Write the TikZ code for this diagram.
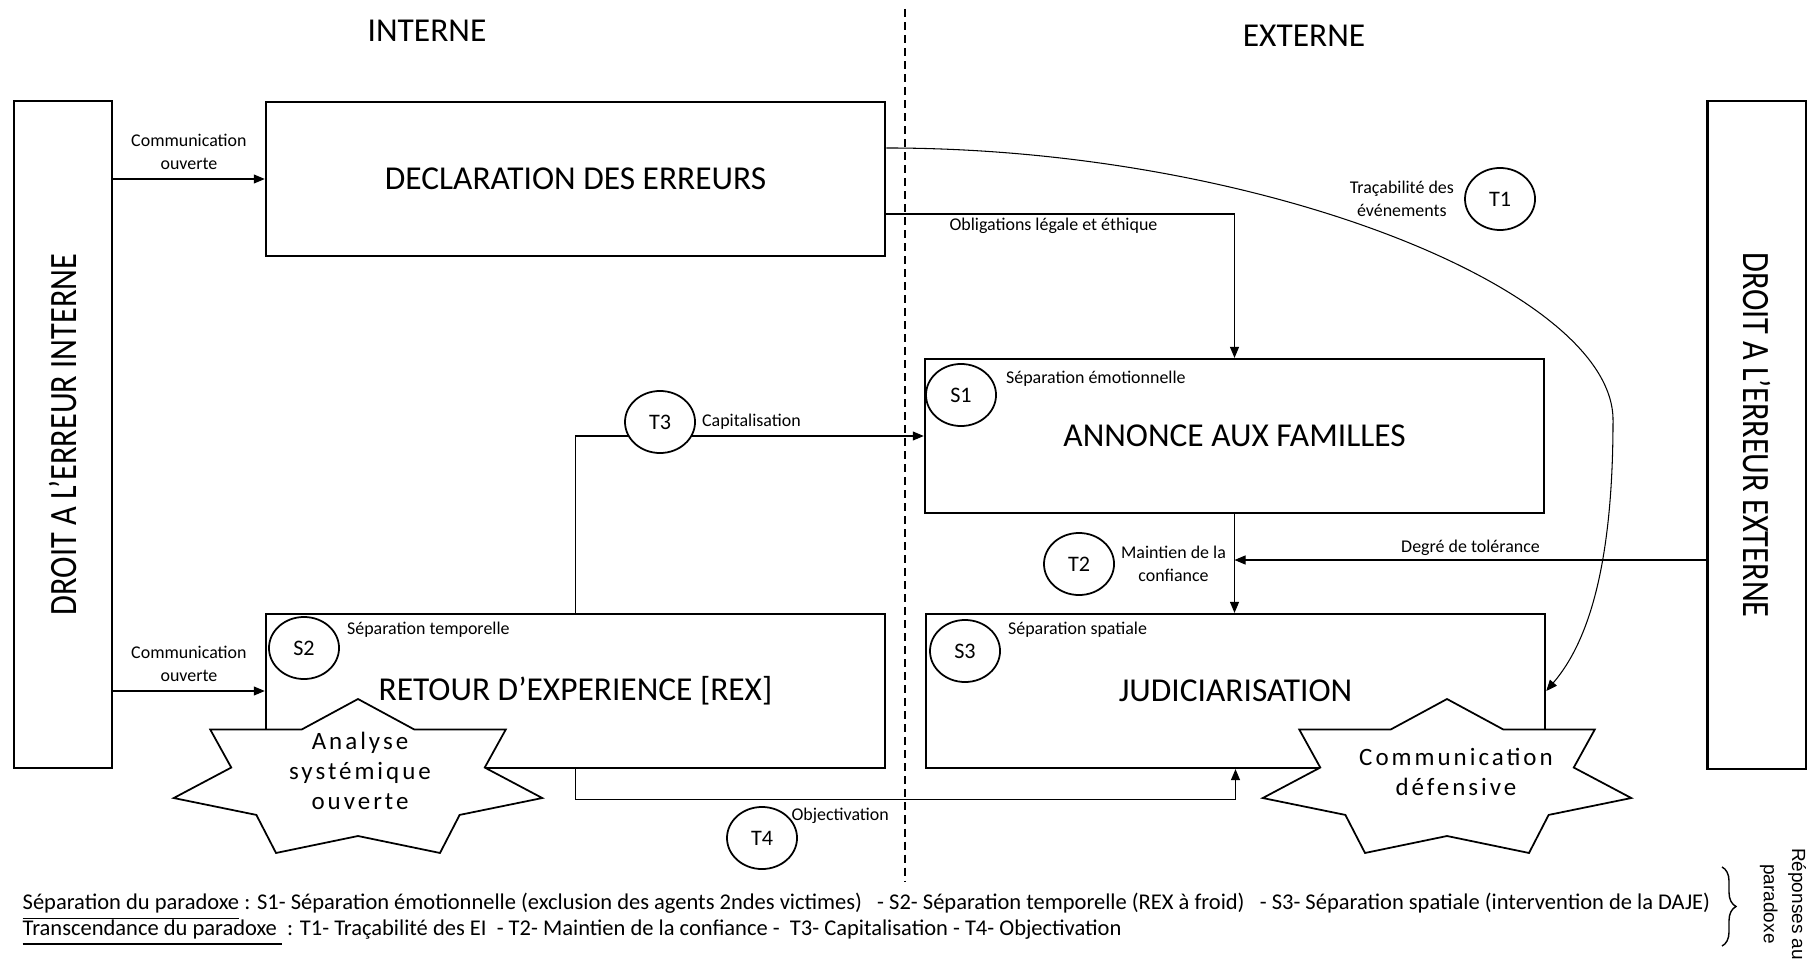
\documentclass[tikz,border=0pt]{standalone}
\usepackage{fontspec}
\setmainfont{Carlito}
\newfontfamily\condfont[FakeStretch=0.835]{Carlito}
\newfontfamily\spacedfont[LetterSpace=12]{Carlito}
\newfontfamily\arialfont{Liberation Sans}
\usetikzlibrary{arrows.meta}
\usetikzlibrary{positioning}
\usetikzlibrary{shapes.geometric}
\usetikzlibrary{decorations.pathreplacing}
\newcommand{\boxfont}{\fontsize{9.5}{11.4}\selectfont}
\newcommand{\sidefont}{\condfont\fontsize{11}{13}\selectfont}
\newcommand{\tagfont}{\fontsize{6.3}{7}\selectfont}
\newcommand{\notefont}{\fontsize{5.1}{6.5}\selectfont}
\newcommand{\starfont}{\spacedfont\fontsize{7.1}{8.6}\selectfont}
\newcommand{\legendfont}{\fontsize{6.4}{7.6}\selectfont}
\tikzset{box/.style = {draw, line width=0.6pt, minimum width=6.19cm, minimum height=1.54cm, inner sep=0, font=\boxfont}}
\tikzset{side/.style = {draw, line width=0.6pt, minimum width=0.98cm, minimum height=6.67cm, inner sep=0, font=\sidefont}}
\tikzset{circ/.style = {draw, ellipse, fill=white, line width=0.5pt, minimum width=0.7cm, minimum height=0.62cm, inner sep=0, font=\tagfont}}
\tikzset{lbl/.style = {font=\notefont, inner sep=1pt, align=center}}
\tikzset{flow/.style = {line width=0.3pt, -{Triangle[length=1.1mm, width=0.9mm]}}}
\tikzset{burst/.style = {draw, fill=white, line width=0.5pt}}
\begin{document}
\begin{tikzpicture}[x=0.01cm, y=-0.01cm]
      \useasboundingbox (0,0) rectangle (1813,958);

      % dividing line and sides
      \coordinate (divtop) at (905,9);
      \coordinate (divbot) at (905,881);
      \draw [line width=0.45pt, dash pattern=on 0.08cm off 0.05cm] (divtop) -- (divbot);
      \node [font=\boxfont] (interne) at (427,31) {INTERNE};
      \node [font=\boxfont] (externe) at (1304,36) {EXTERNE};

      \node [side] (droitint) at (63,434.5) {\rotatebox{90}{DROIT A L’ERREUR INTERNE}};
      \node [side] (droitext) at (1756.5,435) {\rotatebox{-90}{DROIT A L’ERREUR EXTERNE}};

      \node [box] (decl) at (575.5,179) {DECLARATION DES ERREURS};
      \node [box] (annonce) at (1234.5,436) {ANNONCE AUX FAMILLES};
      \node [box] (rex) at (575.5,691) {RETOUR D’EXPERIENCE [REX]};
      \node [box] (judic) at (1235.5,691) {JUDICIARISATION};

      % connectors
      \draw [flow] (droitint.east |- decl.west) -- node [lbl, above=1.5pt] {Communication\\ouverte} (decl.west);
      \draw [flow] (droitint.east |- rex.west) -- node [lbl, above=1.5pt] {Communication\\ouverte} (rex.west);
      \draw [flow] ([yshift=-0.35cm]decl.east) -| node [lbl, pos=0.085, below right] {Obligations légale et éthique} (annonce.north);

      \coordinate (tracebend) at (1613,420);
      \draw [flow] ([yshift=0.31cm]decl.east) .. controls (1260,148) and (1613,290) .. (tracebend)
            .. controls (1613,560) and (1590,640) .. (judic.east);

      \draw [flow] (annonce.south) -- (annonce.south |- judic.north);
      \coordinate (tolerance) at (annonce.south |- 0,560);
      \draw [flow] (droitext.west |- tolerance) -- node [lbl, above] {Degré de tolérance} (tolerance);

      \draw [flow] (rex.north) |- (annonce.west);
      \draw [flow] (rex.south) -- ++(0,30) -| (judic.south);

      % transcendance
      \node [circ] (t1) at (1500,199) {T1};
      \node [lbl, left=0.06cm of t1] {Traçabilité des\\événements};
      \node [circ] (t2) at (1079,564) {T2};
      \node [lbl, right=0.02cm of t2] {Maintien de la\\confiance};
      \node [circ] (t3) at (660,422) {T3};
      \node [lbl, right=0.02cm of t3] {Capitalisation};
      \node [circ] (t4) at (762,838) {T4};
      \node [lbl, anchor=west] at (t4.north east) {Objectivation};

      % separation
      \node [circ] (s1) at (961,395) {S1};
      \node [lbl, anchor=west] at ([shift={(0.05cm,0.16cm)}]s1.east) {Séparation émotionnelle};
      \node [circ] (s2) at (304,648) {S2};
      \node [lbl, anchor=west] at ([shift={(0.03cm,0.18cm)}]s2.east) {Séparation temporelle};
      \node [circ] (s3) at (965,651) {S3};
      \node [lbl, anchor=west] at ([shift={(0.03cm,0.21cm)}]s3.east) {Séparation spatiale};

      % stars
      \foreach \cx in {358,1447} {
        \draw [burst, shift={(\cx,780)}] (0,-81)
          \foreach \k in {1,...,7} {
            -- ({130*cos(-90+(2*\k-1)*180/7)}, {56*sin(-90+(2*\k-1)*180/7)})
            -- ({189*cos(-90+\k*360/7)}, {81*sin(-90+\k*360/7)})
          } -- cycle;
      }
      \node [font=\starfont, align=center] (analyse) at (360,771) {Analyse\\systémique\\ouverte};
      \node [font=\starfont, align=center] (defensive) at (1456,772) {Communication\\défensive};

      % legend
      \node [font=\legendfont, anchor=west, inner sep=0] (sepnote) at (22,907)
            {\underline{Séparation du paradoxe}\ : S1- Séparation émotionnelle (exclusion des agents 2ndes victimes)\ \ \ - S2- Séparation temporelle (REX à froid)\ \ \ - S3- Séparation spatiale (intervention de la DAJE)};
      \node [font=\legendfont, anchor=west, inner sep=0] (transnote) at (22,933)
            {\underline{Transcendance du paradoxe\ }\ : T1- Traçabilité des EI\ \ - T2- Maintien de la confiance -\ \ T3- Capitalisation - T4- Objectivation};
      \coordinate (bracetop) at (1722,867);
      \coordinate (bracebot) at (1722,946);
      \draw [decorate, decoration={brace, amplitude=0.14cm}, line width=0.4pt] (bracetop) -- (bracebot);
      \node [font=\arialfont\fontsize{5.4}{8}\selectfont, rotate=-90, align=center] (reponses) at (1783,904) {Réponses au\\paradoxe};
    \end{tikzpicture}
\end{document}
